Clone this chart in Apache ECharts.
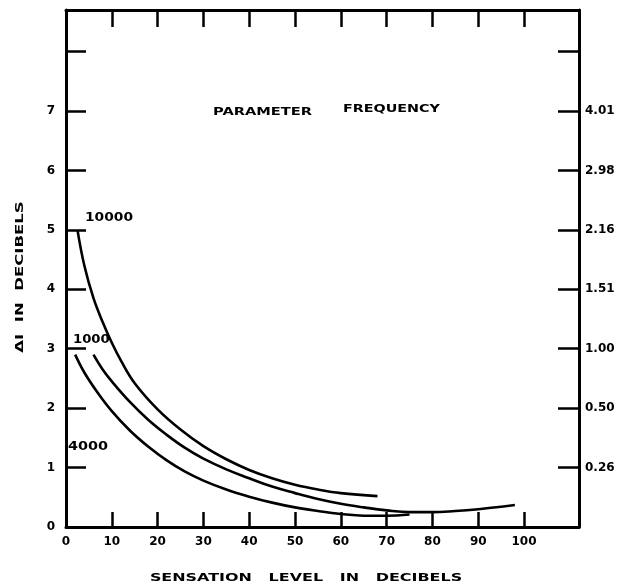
<!DOCTYPE html>
<html><head><meta charset="utf-8">
<script src="https://cdn.jsdelivr.net/npm/echarts@6/dist/echarts.min.js"></script>
<style>html,body{margin:0;padding:0;background:#fff}#c{width:629px;height:586px}</style>
</head><body><div id="c"></div>
<script>
// Axis ticks / labels
const xTickValues = [0, 10, 20, 30, 40, 50, 60, 70, 80, 90, 100];
const yTickValues = [1, 2, 3, 4, 5, 6, 7, 8];
const yLabelValues = [0, 1, 2, 3, 4, 5, 6, 7];
const rightLabelValues = [1, 2, 3, 4, 5, 6, 7];
const rightLabels = ['0.26', '0.50', '1.00', '1.51', '2.16', '2.98', '4.01'];

// Curves (parameter: frequency)
const x10000 = [2.5, 4, 6, 8, 10, 12, 15, 20, 25, 30, 35, 40, 45, 50, 55, 60, 68];
const y10000 = [5.0, 4.4, 3.85, 3.45, 3.1, 2.8, 2.42, 1.98, 1.64, 1.36, 1.14, 0.96, 0.82, 0.71, 0.63, 0.57, 0.52];
const x1000 = [6, 8, 10, 14, 18, 22, 26, 30, 35, 40, 45, 50, 55, 60, 65, 70, 75, 80, 85, 90, 95, 98];
const y1000 = [2.9, 2.65, 2.45, 2.1, 1.8, 1.55, 1.33, 1.15, 0.97, 0.82, 0.68, 0.57, 0.47, 0.39, 0.33, 0.28, 0.25, 0.25, 0.27, 0.30, 0.34, 0.37];
const x4000 = [2, 4, 7, 10, 14, 18, 22, 26, 30, 35, 40, 45, 50, 55, 60, 65, 70, 75];
const y4000 = [2.9, 2.6, 2.25, 1.95, 1.62, 1.35, 1.12, 0.93, 0.78, 0.63, 0.51, 0.41, 0.33, 0.27, 0.22, 0.19, 0.19, 0.21];

const curveLabels = ['10000', '1000', '4000'];
const titleText = 'PARAMETER';
const titleText2 = 'FREQUENCY';
const xTitle = 'SENSATION   LEVEL   IN   DECIBELS';
const yTitle = 'ΔI  IN  DECIBELS';

const FONT = '"DejaVu Sans", sans-serif';
const pairs = (xs, ys) => xs.map((x, i) => [x, ys[i]]);

const chart = echarts.init(document.getElementById('c'), null, {renderer: 'canvas'});
const lineStyle = {color: '#000', width: 2.6};
const axisLine = {show: true, onZero: false, lineStyle: {color: '#000', width: 3}};
const labelStyle = {color: '#000', fontFamily: FONT, fontWeight: 'bold', fontSize: 12};
const txt = (text, x, y, size, sx, extra) => Object.assign({
  type: 'text', x: x, y: y, scaleX: sx, scaleY: 1,
  style: {text: text, font: 'bold ' + size + 'px ' + FONT, fill: '#000', align: 'left', verticalAlign: 'middle'}
}, extra || {});

chart.setOption({
  animation: false,
  backgroundColor: '#fff',
  grid: {left: 66, right: 50, top: 10, bottom: 59, containLabel: false},
  xAxis: [
    {type: 'value', position: 'bottom', min: 0, max: 112,
     axisLine: axisLine, splitLine: {show: false},
     axisTick: {show: true, inside: true, length: 15, customValues: xTickValues, lineStyle: {color: '#000', width: 2.5}},
     axisLabel: Object.assign({customValues: xTickValues, margin: 9}, labelStyle)},
    {type: 'value', position: 'top', min: 0, max: 112,
     axisLine: axisLine, splitLine: {show: false},
     axisTick: {show: true, inside: true, length: 17, customValues: xTickValues.slice(1), lineStyle: {color: '#000', width: 2.5}},
     axisLabel: {show: false}}
  ],
  yAxis: [
    {type: 'value', position: 'left', min: 0, max: 8.7,
     axisLine: axisLine, splitLine: {show: false},
     axisTick: {show: true, inside: true, length: 20, customValues: yTickValues, lineStyle: {color: '#000', width: 2.5}},
     axisLabel: Object.assign({customValues: yLabelValues, margin: 11}, labelStyle)},
    {type: 'value', position: 'right', min: 0, max: 8.7,
     axisLine: axisLine, splitLine: {show: false},
     axisTick: {show: true, inside: true, length: 21, customValues: yTickValues, lineStyle: {color: '#000', width: 2.5}},
     axisLabel: Object.assign({customValues: rightLabelValues, margin: 6,
       formatter: v => rightLabels[Math.round(v) - 1] || ''}, labelStyle)}
  ],
  series: [
    {name: curveLabels[0], type: 'line', xAxisIndex: 0, yAxisIndex: 0, data: pairs(x10000, y10000), smooth: 0.4, showSymbol: false, lineStyle: lineStyle},
    {name: curveLabels[1], type: 'line', xAxisIndex: 0, yAxisIndex: 0, data: pairs(x1000, y1000), smooth: 0.4, showSymbol: false, lineStyle: lineStyle},
    {name: curveLabels[2], type: 'line', xAxisIndex: 0, yAxisIndex: 0, data: pairs(x4000, y4000), smooth: 0.4, showSymbol: false, lineStyle: lineStyle}
  ],
  graphic: [
    txt(titleText, 213, 112, 11, 1.33),
    txt(titleText2, 343, 109, 11, 1.3),
    txt(curveLabels[0], 85, 218, 12, 1.15),
    txt(curveLabels[1], 73, 340, 12, 1.1),
    txt(curveLabels[2], 68, 447, 12, 1.2),
    {type: 'text', x: 306, y: 578, scaleX: 1.45,
     style: {text: xTitle, font: 'bold 11px ' + FONT, fill: '#000', align: 'center', verticalAlign: 'middle'}},
    {type: 'text', x: 20, y: 277, rotation: Math.PI / 2, scaleX: 1.5,
     style: {text: yTitle, font: 'bold 11px ' + FONT, fill: '#000', align: 'center', verticalAlign: 'middle'}}
  ]
});
</script>
</body></html>
